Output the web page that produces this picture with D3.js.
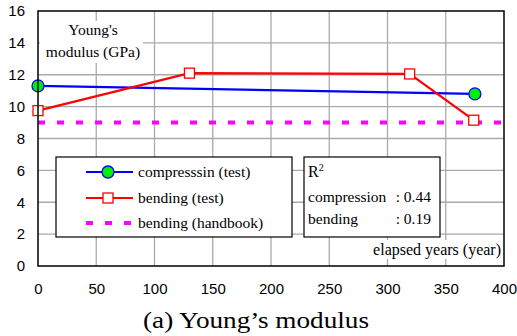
<!DOCTYPE html>
<html>
<head>
<meta charset="utf-8">
<script src="https://cdn.jsdelivr.net/npm/d3@7"></script>
<style>
  html, body { margin: 0; padding: 0; background: #fff; }
  svg { display: block; }
</style>
</head>
<body>
<svg id="chart" width="517" height="336"></svg>
<script>
// Young's modulus versus elapsed years
const compressionYears = [0, 375];
const compressionValues = [11.3, 10.8];
const bendingYears = [0, 130, 319, 374];
const bendingValues = [9.75, 12.1, 12.05, 9.15];
const handbookValue = 9.0;
const xTicks = [0, 50, 100, 150, 200, 250, 300, 350, 400];
const yTicks = [0, 2, 4, 6, 8, 10, 12, 14, 16];
const legendLabels = ["compresssin (test)", "bending (test)", "bending (handbook)"];
const r2Labels = ["compression", "bending"];
const r2Values = ["0.44", "0.19"];

const svg = d3.select("#chart");
const margin = { left: 38, right: 13, top: 11, bottom: 70 };
const W = 517, H = 336;
const x = d3.scaleLinear().domain([0, 400]).range([margin.left, W - margin.right]);
const y = d3.scaleLinear().domain([0, 16]).range([H - margin.bottom, margin.top]);

const sans = "'Liberation Sans', Arial, sans-serif";
const serif = "'Liberation Serif', 'Times New Roman', serif";

// grid
const grid = svg.append("g");
grid.selectAll("line.v").data(xTicks.slice(1, -1)).join("line")
  .attr("x1", d => x(d)).attr("x2", d => x(d))
  .attr("y1", y(16)).attr("y2", y(0))
  .attr("stroke", "#aaa").attr("stroke-width", 1.3);
grid.selectAll("line.h").data(yTicks.slice(1, -1)).join("line")
  .attr("x1", x(0)).attr("x2", x(400))
  .attr("y1", d => y(d)).attr("y2", d => y(d))
  .attr("stroke", "#aaa").attr("stroke-width", 1.3);

// axis labels
const xAxis = d3.axisBottom(x).tickValues(xTicks).tickSize(0).tickPadding(17);
svg.append("g").attr("transform", `translate(0,${y(0)})`).call(xAxis)
  .call(g => g.select(".domain").remove())
  .selectAll("text").attr("font-family", sans).attr("font-size", 15).attr("fill", "#000");
const yAxis = d3.axisLeft(y).tickValues(yTicks).tickSize(0).tickPadding(13);
svg.append("g").attr("transform", `translate(${x(0)},0)`).call(yAxis)
  .call(g => g.select(".domain").remove())
  .selectAll("text").attr("font-family", sans).attr("font-size", 15).attr("fill", "#000");

// unit label with white backing
svg.append("rect").attr("x", 40).attr("y", 21).attr("width", 103).attr("height", 42).attr("fill", "#fff");
svg.append("text").attr("x", 93).attr("y", 35).attr("text-anchor", "middle")
  .attr("font-family", serif).attr("font-size", 15.5).text("Young's");
svg.append("text").attr("x", 93).attr("y", 57).attr("text-anchor", "middle")
  .attr("font-family", serif).attr("font-size", 15.5).text("modulus (GPa)");

// handbook reference line
svg.append("line")
  .attr("x1", x(0)).attr("x2", x(400))
  .attr("y1", y(handbookValue)).attr("y2", y(handbookValue))
  .attr("stroke", "#ff00ff").attr("stroke-width", 4).attr("stroke-dasharray", "7,12");

const line = d3.line().x(d => x(d[0])).y(d => y(d[1]));
const comp = d3.zip(compressionYears, compressionValues);
const bend = d3.zip(bendingYears, bendingValues);

svg.append("path").datum(comp).attr("d", line)
  .attr("fill", "none").attr("stroke", "#0000ff").attr("stroke-width", 2.2);
svg.append("path").datum(bend).attr("d", line)
  .attr("fill", "none").attr("stroke", "#ff0000").attr("stroke-width", 2.2);

svg.selectAll("rect.bm").data(bend).join("rect")
  .attr("x", d => x(d[0]) - 5).attr("y", d => y(d[1]) - 5)
  .attr("width", 10).attr("height", 10)
  .attr("fill", "#fff").attr("stroke", "#ff0000").attr("stroke-width", 1.3);
svg.selectAll("circle.cm").data(comp).join("circle")
  .attr("cx", d => x(d[0])).attr("cy", d => y(d[1])).attr("r", 6)
  .attr("fill", "#00ee00").attr("stroke", "#0000ff").attr("stroke-width", 1.3);

// plot frame
svg.append("rect").attr("x", x(0)).attr("y", y(16))
  .attr("width", x(400) - x(0)).attr("height", y(0) - y(16))
  .attr("fill", "none").attr("stroke", "#000").attr("stroke-width", 1.5);

// legend
const lg = svg.append("g");
lg.append("rect").attr("x", 56).attr("y", 157).attr("width", 236).attr("height", 80)
  .attr("fill", "#fff").attr("stroke", "#000").attr("stroke-width", 1.2);
const rows = [172, 198, 223];
lg.append("line").attr("x1", 86).attr("x2", 133).attr("y1", rows[0]).attr("y2", rows[0])
  .attr("stroke", "#0000ff").attr("stroke-width", 2.2);
lg.append("circle").attr("cx", 108).attr("cy", rows[0]).attr("r", 6)
  .attr("fill", "#00ee00").attr("stroke", "#0000ff").attr("stroke-width", 1.3);
lg.append("line").attr("x1", 86).attr("x2", 133).attr("y1", rows[1]).attr("y2", rows[1])
  .attr("stroke", "#ff0000").attr("stroke-width", 2.2);
lg.append("rect").attr("x", 103).attr("y", rows[1] - 5).attr("width", 10).attr("height", 10)
  .attr("fill", "#fff").attr("stroke", "#ff0000").attr("stroke-width", 1.3);
lg.append("line").attr("x1", 86).attr("x2", 133).attr("y1", rows[2]).attr("y2", rows[2])
  .attr("stroke", "#ff00ff").attr("stroke-width", 4).attr("stroke-dasharray", "7,12");
lg.selectAll("text").data(legendLabels).join("text")
  .attr("x", 138).attr("y", (d, i) => rows[i] + 5)
  .attr("font-family", serif).attr("font-size", 15.5).text(d => d);

// R² box
const rb = svg.append("g");
rb.append("rect").attr("x", 304).attr("y", 157).attr("width", 136).attr("height", 80)
  .attr("fill", "#fff").attr("stroke", "#000").attr("stroke-width", 1.2);
const r2t = rb.append("text").attr("x", 308).attr("y", 177)
  .attr("font-family", serif).attr("font-size", 16).text("R");
r2t.append("tspan").attr("dy", -6).attr("font-size", 10).text("2");
const r2Rows = [202, 224];
rb.selectAll("text.lab").data(r2Labels).join("text").attr("class", "lab")
  .attr("x", 308).attr("y", (d, i) => r2Rows[i])
  .attr("font-family", serif).attr("font-size", 15.5).text(d => d);
rb.selectAll("text.val").data(r2Values).join("text").attr("class", "val")
  .attr("x", 431).attr("y", (d, i) => r2Rows[i]).attr("text-anchor", "end")
  .attr("font-family", serif).attr("font-size", 15.5).text(d => ": " + d);

// x axis title inside plot
svg.append("rect").attr("x", 366).attr("y", 240).attr("width", 136).attr("height", 19).attr("fill", "#fff");
svg.append("text").attr("x", 501).attr("y", 255).attr("text-anchor", "end")
  .attr("font-family", serif).attr("font-size", 16).text("elapsed years (year)");

// caption
svg.append("text").attr("x", 256).attr("y", 328).attr("text-anchor", "middle")
  .attr("font-family", serif).attr("font-size", 24)
  .attr("textLength", 226).attr("lengthAdjust", "spacingAndGlyphs")
  .text("(a) Young\u2019s modulus");
</script>
</body>
</html>
